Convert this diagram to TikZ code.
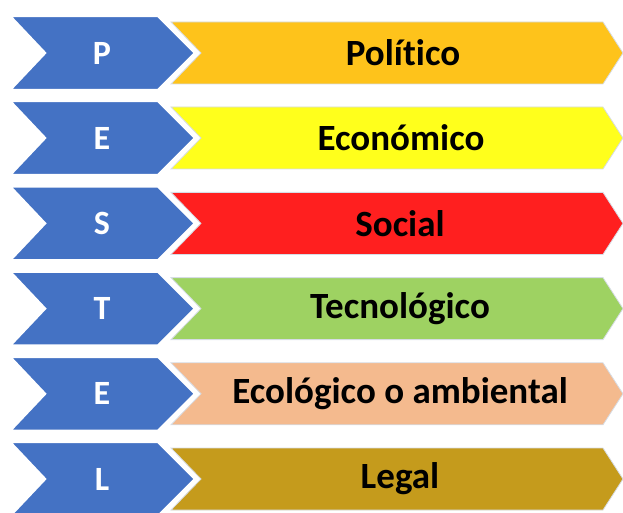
\documentclass[tikz,border=0pt]{standalone}
\usepackage{fontspec}
\setmainfont{Carlito}[Ligatures=NoCommon]
\usepackage{xcolor}
\usepackage{tikz}
\definecolor{tagblue}{HTML}{4472C4}
\definecolor{polcol}{HTML}{FEC31B}
\definecolor{ecocol}{HTML}{FFFF1C}
\definecolor{soccol}{HTML}{FF1F1F}
\definecolor{teccol}{HTML}{9ED262}
\definecolor{ambcol}{HTML}{F4BA8E}
\definecolor{legcol}{HTML}{C59B1C}
\definecolor{barline}{HTML}{D6DCE5}

\begin{document}
\begin{tikzpicture}[
  x=1pt,y=1pt,
  tag/.style={fill=tagblue,draw=white,line width=2.4pt,line join=miter},
  bar/.style={draw=barline,line width=0.8pt},
  tagtxt/.style={font=\fontsize{34}{36}\selectfont\bfseries,text=white,inner sep=0pt},
  bartxt/.style={font=\fontsize{37}{40}\selectfont\bfseries,text=black,inner sep=0pt}
]
\useasboundingbox (0,0) rectangle (623,512);
\clip (0,0) rectangle (623,512);

% ---- P : Politico ----
\path[bar,fill=polcol] (171,490) -- (603,490) -- (623,459) -- (603,428) -- (171,428) -- (201,459) -- cycle;
\path[tag] (10,496) -- (158,496) -- (195,459) -- (158,422) -- (10,422) -- (45,459) -- cycle;
\node[tagtxt] (p)   at (102,459) {P};
\node[bartxt] (pol) at (403,459) {Político};

% ---- E : Economico ----
\path[bar,fill=ecocol] (171,405) -- (603,405) -- (623,374) -- (603,343) -- (171,343) -- (201,374) -- cycle;
\path[tag] (10,411) -- (158,411) -- (195,374) -- (158,337) -- (10,337) -- (45,374) -- cycle;
\node[tagtxt] (e1)  at (102,374) {E};
\node[bartxt] (eco) at (401,374) {Económico};

% ---- S : Social ----
\path[bar,fill=soccol] (171,319.6) -- (603,319.6) -- (623,288.6) -- (603,257.6) -- (171,257.6) -- (201,288.6) -- cycle;
\path[tag] (10,325.6) -- (158,325.6) -- (195,288.6) -- (158,251.6) -- (10,251.6) -- (45,288.6) -- cycle;
\node[tagtxt] (s)   at (102,288.6) {S};
\node[bartxt] (soc) at (400,288.6) {Social};

% ---- T : Tecnologico ----
\path[bar,fill=teccol] (171,234.4) -- (603,234.4) -- (623,203.4) -- (603,172.4) -- (171,172.4) -- (201,203.4) -- cycle;
\path[tag] (10,240.4) -- (158,240.4) -- (195,203.4) -- (158,166.4) -- (10,166.4) -- (45,203.4) -- cycle;
\node[tagtxt] (t)   at (102,203.4) {T};
\node[bartxt] (tec) at (400,203.4) {Tecnológico};

% ---- E : Ecologico o ambiental ----
\path[bar,fill=ambcol] (171,149.2) -- (603,149.2) -- (623,118.2) -- (603,87.2) -- (171,87.2) -- (201,118.2) -- cycle;
\path[tag] (10,155.2) -- (158,155.2) -- (195,118.2) -- (158,81.2) -- (10,81.2) -- (45,118.2) -- cycle;
\node[tagtxt] (e2)  at (102,118.2) {E};
\node[bartxt] (amb) at (400,118.2) {Ecológico o ambiental};

% ---- L : Legal ----
\path[bar,fill=legcol] (171,64) -- (603,64) -- (623,33) -- (603,2) -- (171,2) -- (201,33) -- cycle;
\path[tag] (10,70) -- (158,70) -- (195,33) -- (158,-4) -- (10,-4) -- (45,33) -- cycle;
\node[tagtxt] (l)   at (102,33) {L};
\node[bartxt] (leg) at (400,33) {Legal};

\end{tikzpicture}
\end{document}
